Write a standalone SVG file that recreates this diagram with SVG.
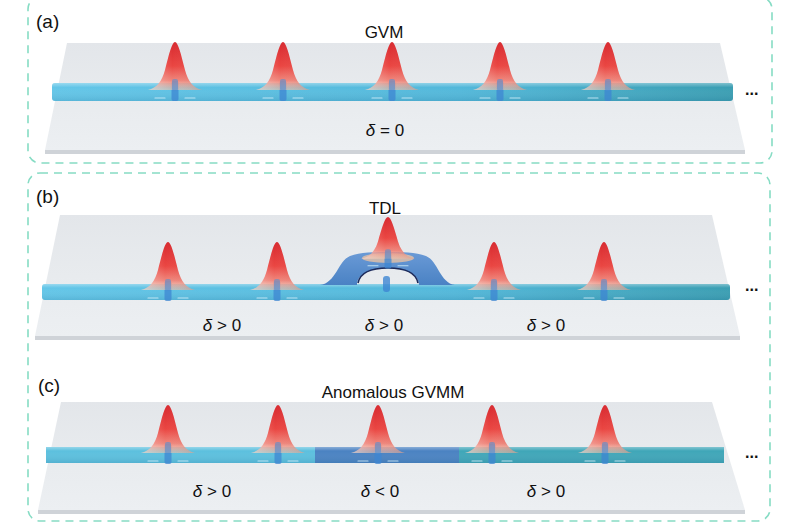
<svg xmlns="http://www.w3.org/2000/svg" xmlns:xlink="http://www.w3.org/1999/xlink" width="800" height="524" viewBox="0 0 800 524">
<style>
.frame{fill:none;stroke:#86dcc4;stroke-width:1.6;stroke-dasharray:8 6}
.lbl{font-family:"Liberation Sans",Arial,sans-serif;font-size:17px;fill:#111}
.tag{font-family:"Liberation Sans",Arial,sans-serif;font-size:19px;fill:#111}
.dlt{font-family:"Liberation Sans",Arial,sans-serif;font-size:17px;fill:#111}
.top{fill:url(#slabTop)}
.front{fill:#cfd3d8}
.dots{font-family:"Liberation Sans",Arial,sans-serif;font-size:16px;fill:#111;font-weight:bold}
.streak{stroke:#d8f2fb;stroke-width:1.2;stroke-linecap:round;opacity:.8}
</style>
<defs>
<linearGradient id="slabTop" x1="0" y1="0" x2="0" y2="1">
<stop offset="0" stop-color="#e3e6ea"/>
<stop offset="0.5" stop-color="#e8ebee"/>
<stop offset="1" stop-color="#eceff2"/>
</linearGradient>
<linearGradient id="wg" x1="0" y1="0" x2="1" y2="0">
<stop offset="0" stop-color="#63c6e8"/>
<stop offset="0.6" stop-color="#52b8da"/>
<stop offset="1" stop-color="#3a9eb2"/>
</linearGradient>
<linearGradient id="wgShade" x1="0" y1="0" x2="0" y2="1">
<stop offset="0" stop-color="#ffffff" stop-opacity="0.35"/>
<stop offset="0.25" stop-color="#ffffff" stop-opacity="0"/>
<stop offset="1" stop-color="#1a5a80" stop-opacity="0.15"/>
</linearGradient>
<linearGradient id="pulseG" x1="0" y1="0" x2="0" y2="1">
<stop offset="0" stop-color="#d82a30"/>
<stop offset="0.5" stop-color="#ea4642"/>
<stop offset="0.8" stop-color="#f07a6e" stop-opacity="0.9"/>
<stop offset="1" stop-color="#f7c2a8" stop-opacity="0.55"/>
</linearGradient>
<linearGradient id="pulseSide" x1="0" y1="0" x2="1" y2="0">
<stop offset="0" stop-color="#ffffff" stop-opacity="0.3"/>
<stop offset="0.45" stop-color="#ffffff" stop-opacity="0"/>
<stop offset="1" stop-color="#8a1010" stop-opacity="0.12"/>
</linearGradient>
<linearGradient id="archG" x1="0" y1="0" x2="0" y2="1">
<stop offset="0" stop-color="#6a9ad6"/>
<stop offset="1" stop-color="#4a82c4"/>
</linearGradient>
<g id="pulse">
<rect x="-3.5" y="-8" width="7" height="20" rx="2" fill="#3d86d2" opacity="0.75"/>
<path d="M -27,1 C -18,-1 -13,-8 -10,-19 C -6,-35 -3,-47 0,-47 C 3,-47 6,-35 10,-19 C 13,-8 18,-1 27,1 Z" fill="url(#pulseG)"/>
<path d="M -27,1 C -18,-1 -13,-8 -10,-19 C -6,-35 -3,-47 0,-47 C 3,-47 6,-35 10,-19 C 13,-8 18,-1 27,1 Z" fill="url(#pulseSide)"/>
<rect x="-3" y="-10" width="6" height="12" rx="2" fill="#4a8ed6" opacity="0.55"/>
<path d="M -20,9 L -10,9 M 10,9 L 20,9" class="streak"/>
</g>
</defs>

<rect width="800" height="524" fill="#ffffff"/>

<g id="panel-a">
<rect class="frame" x="28" y="-3" width="744" height="166" rx="12"/>
<polygon class="top" points="67,43 720,43 745,150 45,150"/>
<polygon class="front" points="45,150 745,150 745,154 45,154"/>
<rect x="52" y="83" width="681" height="18" rx="3" fill="url(#wg)"/>
<rect x="52" y="83" width="681" height="18" rx="3" fill="url(#wgShade)"/>
<use xlink:href="#pulse" href="#pulse" transform="translate(175,89)"/>
<use xlink:href="#pulse" href="#pulse" transform="translate(283,89)"/>
<use xlink:href="#pulse" href="#pulse" transform="translate(392,89)"/>
<use xlink:href="#pulse" href="#pulse" transform="translate(500,89)"/>
<use xlink:href="#pulse" href="#pulse" transform="translate(608,89)"/>
<text class="tag" x="36" y="28">(a)</text>
<text class="lbl" x="384" y="38" text-anchor="middle">GVM</text>
<text class="dlt" x="385" y="136" text-anchor="middle"><tspan font-style="italic">δ</tspan> = 0</text>
<text class="dots" x="745" y="95">...</text>
</g>

<g id="panel-bc-frame">
<rect class="frame" x="28" y="173" width="742" height="348" rx="12"/>
</g>

<g id="panel-b">
<polygon class="top" points="60,215 712,215 740,336 35,336"/>
<polygon class="front" points="35,336 740,336 740,340 35,340"/>
<rect x="42" y="284" width="688" height="16" rx="3" fill="url(#wg)"/>
<rect x="42" y="284" width="688" height="16" rx="3" fill="url(#wgShade)"/>
<use xlink:href="#pulse" href="#pulse" transform="translate(168,289)"/>
<use xlink:href="#pulse" href="#pulse" transform="translate(277,289)"/>
<use xlink:href="#pulse" href="#pulse" transform="translate(494,289)"/>
<use xlink:href="#pulse" href="#pulse" transform="translate(604,289)"/>
<g id="delay-loop">
<path d="M 320,285 C 336,283 338,261 350,256 C 360,252 375,252 388,252 C 401,252 416,252 426,256 C 438,261 440,283 455,285 Z M 357,285 C 357,275 368,268 388,268 C 408,268 419,275 419,285 Z" fill="url(#archG)" fill-rule="evenodd"/>
<path d="M 358,283 C 360,273 370,268 388,268 C 406,268 416,273 418,283" fill="none" stroke="#1c2b5c" stroke-width="1.6"/>
<rect x="383" y="276" width="7" height="16" rx="3" fill="#3d86d2" opacity="0.8"/>
<ellipse cx="388" cy="258" rx="26" ry="5" fill="#f8c8a0" opacity="0.7"/>
<use xlink:href="#pulse" href="#pulse" transform="translate(388,258) scale(1,0.87)"/>
</g>
<text class="tag" x="36" y="203">(b)</text>
<text class="lbl" x="385" y="214" text-anchor="middle">TDL</text>
<text class="dlt" x="222" y="331" text-anchor="middle"><tspan font-style="italic">δ</tspan> &gt; 0</text>
<text class="dlt" x="384" y="331" text-anchor="middle"><tspan font-style="italic">δ</tspan> &gt; 0</text>
<text class="dlt" x="546" y="331" text-anchor="middle"><tspan font-style="italic">δ</tspan> &gt; 0</text>
<text class="dots" x="745" y="291">...</text>
</g>

<g id="panel-c">
<polygon class="top" points="61,402 712,402 745,510 38,510"/>
<polygon class="front" points="38,510 745,510 745,514 38,514"/>
<rect x="46" y="447" width="270" height="16" fill="#5cc0de"/>
<rect x="315" y="447" width="145" height="16" fill="#4a82c2"/>
<rect x="459" y="447" width="265" height="16" fill="#3fa6b8"/>
<rect x="46" y="447" width="678" height="16" fill="url(#wgShade)"/>
<use xlink:href="#pulse" href="#pulse" transform="translate(168,452)"/>
<use xlink:href="#pulse" href="#pulse" transform="translate(278,452)"/>
<use xlink:href="#pulse" href="#pulse" transform="translate(378,452)"/>
<use xlink:href="#pulse" href="#pulse" transform="translate(492,452)"/>
<use xlink:href="#pulse" href="#pulse" transform="translate(605,452)"/>
<text class="tag" x="38" y="392">(c)</text>
<text class="lbl" x="393" y="398" text-anchor="middle">Anomalous GVMM</text>
<text class="dlt" x="212" y="497" text-anchor="middle"><tspan font-style="italic">δ</tspan> &gt; 0</text>
<text class="dlt" x="380" y="497" text-anchor="middle"><tspan font-style="italic">δ</tspan> &lt; 0</text>
<text class="dlt" x="546" y="497" text-anchor="middle"><tspan font-style="italic">δ</tspan> &gt; 0</text>
<text class="dots" x="745" y="458">...</text>
</g>
</svg>
